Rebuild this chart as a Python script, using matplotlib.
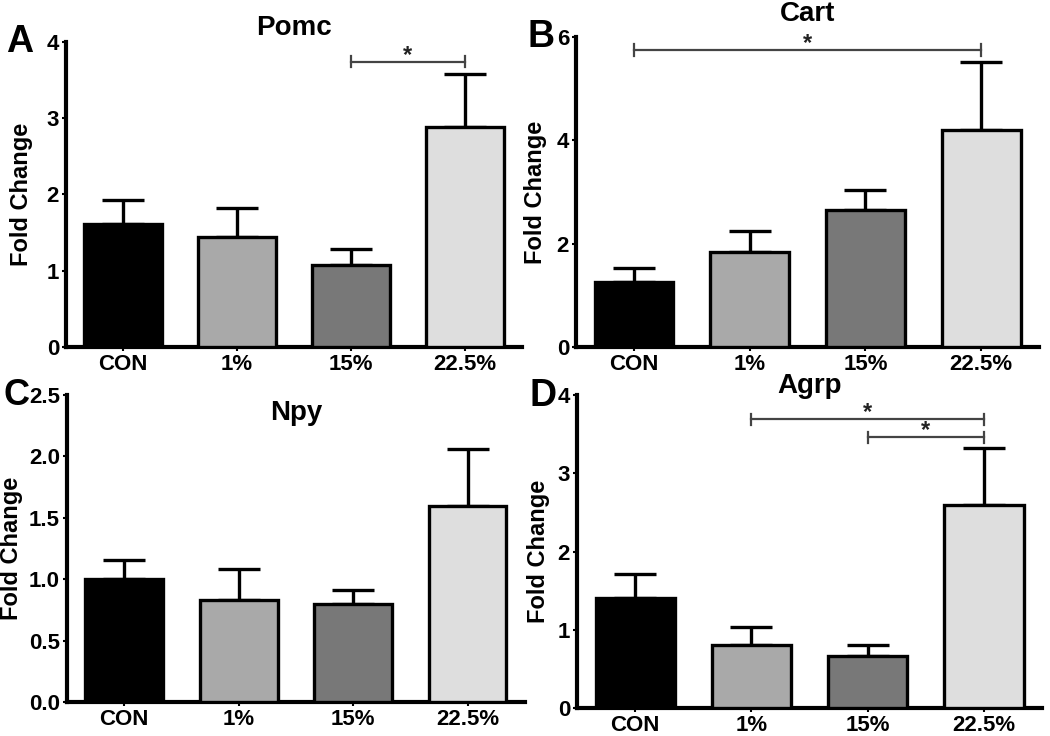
import numpy as np
import matplotlib.pyplot as plt

plt.rcParams['font.family'] = ['Liberation Sans', 'DejaVu Sans']
plt.rcParams['font.weight'] = 'bold'

groups = ['CON', '1%', '15%', '22.5%']
colors = ['#000000', '#a9a9a9', '#787878', '#dedede']

pomc = [1.61, 1.44, 1.08, 2.89]
pomc_err = [0.32, 0.38, 0.20, 0.69]
cart = [1.26, 1.84, 2.65, 4.20]
cart_err = [0.27, 0.40, 0.39, 1.32]
npy = [1.00, 0.83, 0.80, 1.60]
npy_err = [0.16, 0.25, 0.11, 0.46]
agrp = [1.41, 0.80, 0.67, 2.60]
agrp_err = [0.30, 0.24, 0.13, 0.72]

# (title, values, errors, ymax, yticks, tick fmt, sig brackets (i, j, y), axes rect, title y, ylabel offset px)
panels = [
    ('Pomc', pomc, pomc_err, 4, [0, 1, 2, 3, 4], '%d', [(2, 3, 3.74)],
     [0.0629, 0.5285, 0.434, 0.4145], 1.045, 33),
    ('Cart', cart, cart_err, 6, [0, 2, 4, 6], '%d', [(0, 3, 5.75)],
     [0.5486, 0.5285, 0.441, 0.4212], 1.075, 29),
    ('Npy', npy, npy_err, 2.5, [0, 0.5, 1.0, 1.5, 2.0, 2.5], '%.1f', [],
     [0.0638, 0.0462, 0.436, 0.4171], 0.94, 44),
    ('Agrp', agrp, agrp_err, 4, [0, 1, 2, 3, 4], '%d', [(1, 3, 3.69), (2, 3, 3.46)],
     [0.5495, 0.038, 0.443, 0.4253], 1.03, 27),
]

fig = plt.figure(figsize=(10.5, 7.36), dpi=100)
x = np.arange(len(groups))

for title, vals, errs, ymax, yticks, fmt, sigs, rect, ty, lab_off in panels:
    ax = fig.add_axes(rect)
    ax.bar(x, vals, width=0.68, color=colors, edgecolor='black', linewidth=2.4, zorder=3)
    ax.errorbar(x, vals, yerr=[np.zeros(len(vals)), errs], fmt='none', ecolor='black',
                elinewidth=2.4, capsize=15, capthick=2.4, zorder=2)
    ax.set_xlim(-0.5, 3.5)
    ax.set_ylim(0, ymax)
    ax.set_xticks(x)
    ax.set_xticklabels(groups, fontsize=16, fontweight='bold')
    ax.set_yticks(yticks)
    ax.set_yticklabels([fmt % t for t in yticks], fontsize=16, fontweight='bold')
    ax.tick_params(axis='both', length=3, width=1.5, pad=2)
    ax.set_ylabel('Fold Change', fontsize=17, fontweight='bold')
    ax.yaxis.set_label_coords(-lab_off / (rect[2] * 1050), 0.5)
    for s in ['top', 'right']:
        ax.spines[s].set_visible(False)
    for s in ['left', 'bottom']:
        ax.spines[s].set_linewidth(3)
    ax.text(0.5, ty, title, transform=ax.transAxes, ha='center', va='center',
            fontsize=20, fontweight='bold')
    for i, j, yv in sigs:
        ax.plot([i, j], [yv, yv], color='#444444', lw=1.6, zorder=4, clip_on=False)
        h = ymax * 0.018
        for xx in (i, j):
            ax.plot([xx, xx], [yv - h, yv + h], color='#444444', lw=1.6, clip_on=False)
        ax.annotate('*', ((i + j) / 2, yv), xytext=(0, 0), textcoords='offset points',
                    ha='center', va='baseline', fontsize=17, fontweight='bold',
                    color='#222222', annotation_clip=False)

fig.text(0.019, 0.943, 'A', fontsize=27, fontweight='bold', va='center', ha='center')
fig.text(0.515, 0.95, 'B', fontsize=27, fontweight='bold', va='center', ha='center')
fig.text(0.016, 0.462, 'C', fontsize=26, fontweight='bold', va='center', ha='center')
fig.text(0.517, 0.462, 'D', fontsize=27, fontweight='bold', va='center', ha='center')

fig.savefig('out.png', dpi=100)
